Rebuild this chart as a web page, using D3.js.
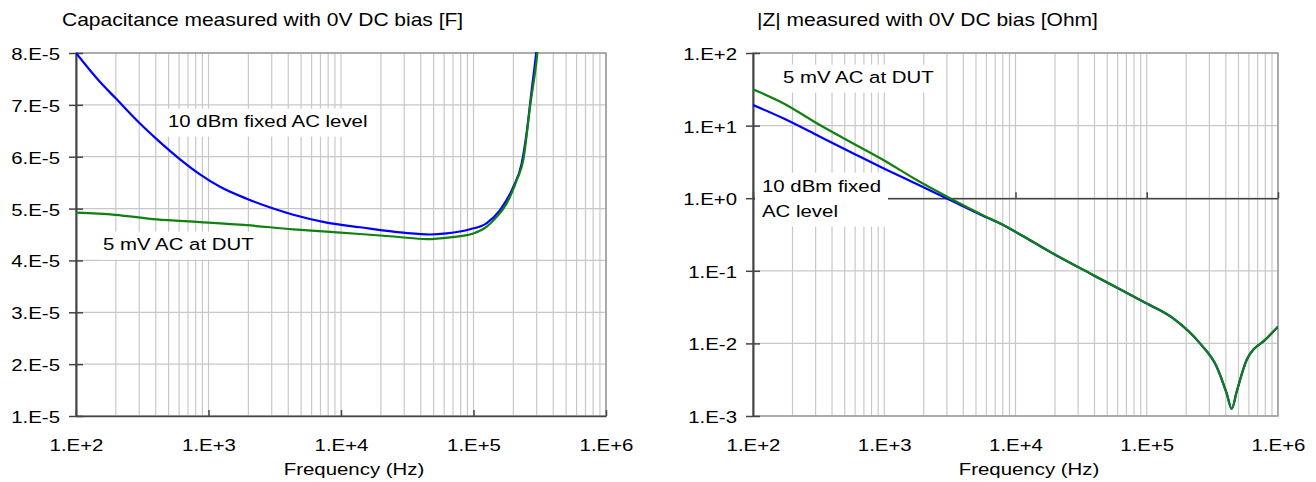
<!DOCTYPE html>
<html>
<head>
<meta charset="utf-8">
<script src="https://cdn.jsdelivr.net/npm/d3@7"></script>
<style>
  body { margin: 0; background: #fff; }
  svg { display: block; }
  text { font-family: "Liberation Sans", Arial, sans-serif; fill: #000; }
</style>
</head>
<body>
<script>
// tick values and labels
const freqTicks = [1e2, 1e3, 1e4, 1e5, 1e6];
const freqTickLabels = ["1.E+2", "1.E+3", "1.E+4", "1.E+5", "1.E+6"];
const capTicks = [1e-5, 2e-5, 3e-5, 4e-5, 5e-5, 6e-5, 7e-5, 8e-5];
const capTickLabels = ["1.E-5", "2.E-5", "3.E-5", "4.E-5", "5.E-5", "6.E-5", "7.E-5", "8.E-5"];
const zTicks = [1e-3, 1e-2, 1e-1, 1e0, 1e1, 1e2];
const zTickLabels = ["1.E-3", "1.E-2", "1.E-1", "1.E+0", "1.E+1", "1.E+2"];

// capacitance, 10 dBm fixed AC level (blue)
const capFreqBlue = [100, 152, 197, 304, 406, 610, 862, 1221, 1942, 3084, 4365, 7800, 13900,
  29500, 47000, 62800, 94200, 126000, 158500, 200000, 231000, 251500, 275000, 296500, 320000];
const capBlue = [8.00e-5, 7.44e-5, 7.14e-5, 6.64e-5, 6.34e-5, 5.95e-5, 5.66e-5, 5.42e-5, 5.19e-5, 5.00e-5, 4.88e-5, 4.73e-5, 4.64e-5,
  4.535e-5, 4.50e-5, 4.52e-5, 4.60e-5, 4.72e-5, 4.97e-5, 5.42e-5, 5.87e-5, 6.45e-5, 7.29e-5, 7.98e-5, 8.9e-5];

// capacitance, 5 mV AC at DUT (green)
const capFreqGreen = [100, 197, 406, 862, 1942, 4365, 7800, 13900, 26300, 44300, 66500, 99700,
  126000, 149600, 178000, 212000, 237700, 266900, 303400, 325000];
const capGreen = [4.92e-5, 4.88e-5, 4.79e-5, 4.74e-5, 4.68e-5, 4.60e-5, 4.555e-5, 4.51e-5, 4.457e-5, 4.41e-5, 4.445e-5, 4.52e-5,
  4.65e-5, 4.84e-5, 5.10e-5, 5.55e-5, 5.94e-5, 6.96e-5, 8.0e-5, 8.9e-5];

// |Z|, 10 dBm fixed AC level (blue)
const zFreqBlue = [100, 170, 306, 548, 984, 1766, 3170, 5690, 7620, 12890, 18320, 39170, 94200,
  159300, 254600, 341000, 406000, 443700, 484300, 577000, 820000, 1000000];
const zBlue = [19.2, 12.6, 7.4, 4.37, 2.58, 1.57, 0.944, 0.57, 0.448, 0.264, 0.182, 0.087, 0.0374,
  0.0221, 0.0100, 0.00478, 0.00206, 0.00125, 0.00216, 0.0059, 0.0117, 0.017];

// |Z|, 5 mV AC at DUT (green)
const zFreqGreen = [100, 170, 306, 548, 984, 1766, 3170, 5690, 7620, 12890, 18320, 39170, 94200,
  159300, 254600, 341000, 406000, 443700, 484300, 577000, 820000, 1000000];
const zGreen = [31.6, 20.3, 10.8, 6.0, 3.36, 1.78, 1.0, 0.58, 0.451, 0.265, 0.183, 0.0875, 0.0376,
  0.0222, 0.0100, 0.00478, 0.00206, 0.00125, 0.00216, 0.0059, 0.01175, 0.017];

const W = 1316, H = 482;
const SX = 1.2;      // the picture's text is stretched sideways
const FS = 17;
const BLUE = "#0000ff", GREEN = "#108010";

const svg = d3.select("body").append("svg").attr("width", W).attr("height", H);

function stretchText(sel) {
  sel.each(function () {
    const t = d3.select(this);
    const x = +t.attr("x") || 0;
    t.attr("x", x / SX).attr("transform", "scale(" + SX + ",1)");
  });
}

function addText(parent, x, y, str, anchor, size) {
  const g = parent.append("g").attr("transform", "translate(" + x + "," + y + ")");
  g.append("text")
    .attr("text-anchor", anchor || "start")
    .attr("font-size", size || FS)
    .attr("transform", "scale(" + SX + ",1)")
    .text(str);
  return g;
}

// white box behind a label (group of texts)
function boxLabel(parent, lines, x, y, lineH, pad) {
  const grp = parent.append("g");
  const box = grp.append("rect").attr("fill", "#fff");
  lines.forEach((s, i) => addText(grp, x, y + i * lineH, s));
  const bb = grp.node().getBBox();
  box.attr("x", bb.x - pad[3]).attr("y", bb.y - pad[0])
    .attr("width", bb.width + pad[1] + pad[3])
    .attr("height", bb.height + pad[0] + pad[2]);
  return grp;
}

function drawPanel(cfg) {
  const x = d3.scaleLog().domain([1e2, 1e6]).range([cfg.x0, cfg.x1]);
  const y = cfg.yScale.range([cfg.y1, cfg.y0]);
  const g = svg.append("g");

  // grid
  g.append("g").selectAll("line").data(x.ticks()).enter().append("line")
    .attr("x1", d => x(d)).attr("x2", d => x(d))
    .attr("y1", cfg.y0).attr("y2", cfg.y1)
    .attr("stroke", "#c8c8c8").attr("stroke-width", 1.2);
  g.append("g").selectAll("line").data(cfg.yTicks).enter().append("line")
    .attr("x1", cfg.x0).attr("x2", cfg.x1)
    .attr("y1", d => y(d)).attr("y2", d => y(d))
    .attr("stroke", "#c8c8c8").attr("stroke-width", 1.2);

  // plot border
  g.append("rect")
    .attr("x", cfg.x0).attr("y", cfg.y0)
    .attr("width", cfg.x1 - cfg.x0).attr("height", cfg.y1 - cfg.y0)
    .attr("fill", "none").attr("stroke", "#999").attr("stroke-width", 1.5);

  // x axis line where it crosses, ticks pointing up
  const xLine = g.append("g")
    .attr("transform", "translate(0," + y(cfg.xCross) + ")")
    .call(d3.axisBottom(x).tickValues(freqTicks).tickFormat("").tickSize(-6).tickSizeOuter(0));
  xLine.selectAll("path, line").attr("stroke", "#444").attr("stroke-width", 1.5);

  // x tick labels at bottom
  const xLab = g.append("g")
    .attr("transform", "translate(0," + cfg.y1 + ")")
    .call(d3.axisBottom(x).tickValues(freqTicks).tickFormat((d, i) => freqTickLabels[i]).tickSize(0).tickPadding(23));
  xLab.select(".domain").remove();
  xLab.selectAll("text").attr("font-size", FS).attr("font-family", null);
  stretchText(xLab.selectAll("text"));

  // y axis
  const yAx = g.append("g")
    .attr("transform", "translate(" + cfg.x0 + ",0)")
    .call(d3.axisLeft(y).tickValues(cfg.yTicks).tickFormat((d, i) => cfg.yLabels[i]).tickSize(7).tickPadding(9).tickSizeOuter(0));
  yAx.selectAll("line").attr("x1", 7).attr("stroke", "#444").attr("stroke-width", 1.5);
  yAx.select(".domain").attr("stroke", "#444").attr("stroke-width", 2);
  yAx.selectAll("text").attr("font-size", FS).attr("font-family", null).attr("dy", "0.38em");
  stretchText(yAx.selectAll("text"));

  // label boxes
  cfg.labels.forEach(l => boxLabel(g, l.lines, l.x, l.y, l.lineH || 25, l.pad));

  // curves
  const clipId = "clip" + cfg.x0;
  svg.append("clipPath").attr("id", clipId).append("rect")
    .attr("x", cfg.x0).attr("y", cfg.y0 - 1)
    .attr("width", cfg.x1 - cfg.x0).attr("height", cfg.y1 - cfg.y0 + 1);
  const line = d3.line().x(d => x(d[0])).y(d => y(d[1])).curve(d3.curveMonotoneX);
  cfg.series.forEach(s => {
    g.append("path")
      .datum(d3.zip(s.f, s.v))
      .attr("clip-path", "url(#" + clipId + ")")
      .attr("fill", "none").attr("stroke", s.color).attr("stroke-width", 2.2)
      .attr("stroke-linejoin", "round")
      .attr("d", line);
  });

  // titles
  addText(g, cfg.titleX, 26, cfg.title, "start", 17.5);
  addText(g, cfg.xTitleX, 475, "Frequency (Hz)", "middle");
}

drawPanel({
  x0: 76, x1: 606, y0: 53, y1: 416,
  yScale: d3.scaleLinear().domain([1e-5, 8e-5]),
  yTicks: capTicks, yLabels: capTickLabels, xCross: 1e-5,
  title: "Capacitance measured with 0V DC bias [F]", titleX: 62, xTitleX: 354,
  labels: [
    { lines: ["10 dBm fixed AC level"], x: 168, y: 127, pad: [3, 5, 6, 5] },
    { lines: ["5 mV AC at DUT"], x: 103, y: 250, pad: [3, 5, 6, 5] }
  ],
  series: [
    { f: capFreqBlue, v: capBlue, color: BLUE },
    { f: capFreqGreen, v: capGreen, color: GREEN }
  ]
});

drawPanel({
  x0: 753, x1: 1278, y0: 53, y1: 416,
  yScale: d3.scaleLog().domain([1e-3, 1e2]),
  yTicks: zTicks, yLabels: zTickLabels, xCross: 1e0,
  title: "|Z| measured with 0V DC bias [Ohm]", titleX: 757, xTitleX: 1029,
  labels: [
    { lines: ["5 mV AC at DUT"], x: 783, y: 83, pad: [3, 4, 6, 4] },
    { lines: ["10 dBm fixed", "AC level"], x: 762, y: 192, lineH: 25, pad: [4, 7, 6, 7] }
  ],
  series: [
    { f: zFreqBlue, v: zBlue, color: BLUE },
    { f: zFreqGreen, v: zGreen, color: GREEN }
  ]
});
</script>
</body>
</html>
